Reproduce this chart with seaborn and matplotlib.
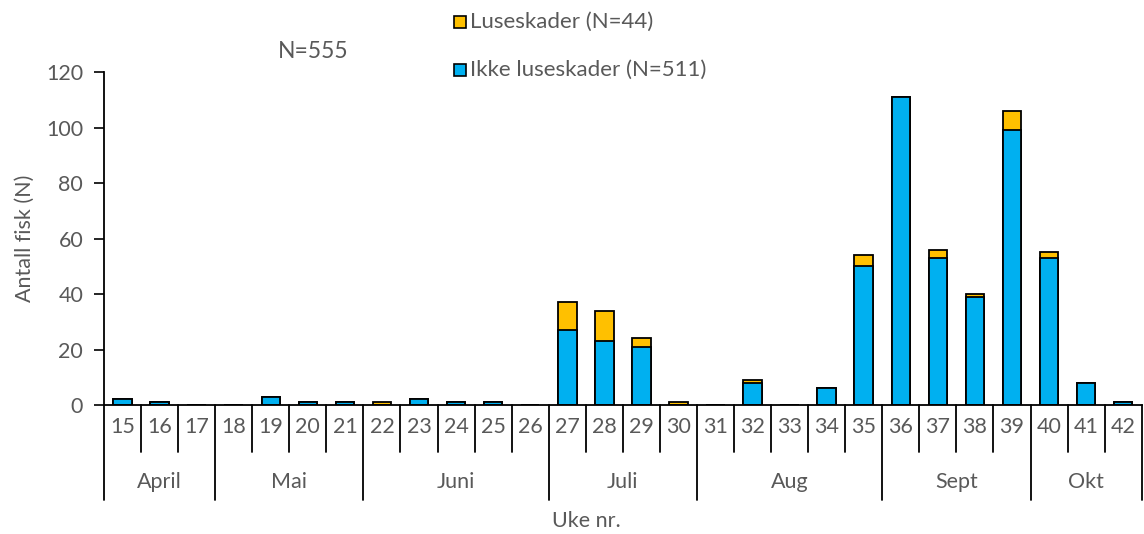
import pandas as pd
import matplotlib.pyplot as plt
import seaborn as sns

# =========================================================
# Data
# =========================================================
weeks = list(range(15, 43))
ikke_luseskader = [2, 1, 0, 0, 3, 1, 1, 0, 2, 1, 1, 0, 27, 23,
                   21, 0, 0, 8, 0, 6, 50, 111, 53, 39, 99, 53, 8, 1]
luseskader = [0, 0, 0, 0, 0, 0, 0, 1, 0, 0, 0, 0, 10, 11,
              3, 1, 0, 1, 0, 0, 4, 0, 3, 1, 7, 2, 0, 0]
months = ["April", "Mai", "Juni", "Juli", "Aug", "Sept", "Okt"]
month_weeks = [[15, 16, 17], [18, 19, 20, 21], [22, 23, 24, 25, 26],
               [27, 28, 29, 30], [31, 32, 33, 34, 35], [36, 37, 38, 39],
               [40, 41, 42]]

df = pd.DataFrame({
    "Uke": [str(w) for w in weeks],
    "Ikke": ikke_luseskader,
    "Lus": luseskader,
})
df["Total"] = df["Ikke"] + df["Lus"]

BLUE = "#00B0F0"
YELLOW = "#FFC000"
GREY = "#595959"
FS = 15.5

sns.set_theme(style="white")
plt.rcParams["font.family"] = ["Lato", "DejaVu Sans"]

fig = plt.figure(figsize=(11.44, 5.34), dpi=100)
ax = fig.add_axes([0.0909, 0.2416, 0.9071, 0.6234])

# stacked: total in yellow, then non-damaged part in blue on top
sns.barplot(data=df, x="Uke", y="Total", color=YELLOW, edgecolor="black",
            linewidth=1.3, width=0.5, saturation=1, ax=ax)
sns.barplot(data=df, x="Uke", y="Ikke", color=BLUE, edgecolor="black",
            linewidth=1.3, width=0.5, saturation=1, ax=ax)

ax.set_xlim(-0.5, len(weeks) - 0.5)
ax.set_ylim(0, 120)
ax.set_yticks(range(0, 121, 20))
ax.tick_params(axis="y", direction="out", length=7, width=1.2, color="black",
               labelsize=FS, labelcolor=GREY, left=True, pad=8)
ax.set_xticks([])
ax.set_xlabel("")
ax.set_ylabel("Antall fisk (N)", fontsize=FS, color=GREY, labelpad=8)
for s in ["top", "right"]:
    ax.spines[s].set_visible(False)
ax.spines["left"].set_color("black")
ax.spines["left"].set_linewidth(1.3)
ax.spines["bottom"].set_color("black")
ax.spines["bottom"].set_linewidth(1.3)

# category axis: week labels, separators, month groups
tr = ax.get_xaxis_transform()
for i, w in enumerate(weeks):
    ax.text(i, -0.066, str(w), transform=tr, ha="center", va="center",
            fontsize=FS, color=GREY)
month_starts = [weeks.index(m[0]) for m in month_weeks]
for i in range(len(weeks) + 1):
    bottom = -0.285 if (i in month_starts or i == len(weeks)) else -0.141
    ax.plot([i - 0.5, i - 0.5], [0, bottom], transform=tr, color="black",
            lw=1.3, clip_on=False)
for name, mw in zip(months, month_weeks):
    center = (weeks.index(mw[0]) + weeks.index(mw[-1])) / 2
    ax.text(center, -0.232, name, transform=tr, ha="center", va="center",
            fontsize=FS, color=GREY)

fig.text(0.5127, 0.024, "Uke nr.", ha="center", va="center",
         fontsize=FS, color=GREY)
fig.text(0.274, 0.903, "N=555", ha="center", va="center",
         fontsize=16.5, color=GREY)

# legend
fig.patches.append(plt.Rectangle((0.397, 0.948), 0.0105, 0.022,
                                 transform=fig.transFigure, facecolor=YELLOW,
                                 edgecolor="black", lw=1.2))
fig.text(0.4105, 0.959, f"Luseskader (N={sum(luseskader)})", ha="left",
         va="center", fontsize=16, color=GREY)
fig.patches.append(plt.Rectangle((0.397, 0.858), 0.0105, 0.022,
                                 transform=fig.transFigure, facecolor=BLUE,
                                 edgecolor="black", lw=1.2))
fig.text(0.4105, 0.869, f"Ikke luseskader (N={sum(ikke_luseskader)})",
         ha="left", va="center", fontsize=16, color=GREY)

fig.savefig("out.png", dpi=100)
